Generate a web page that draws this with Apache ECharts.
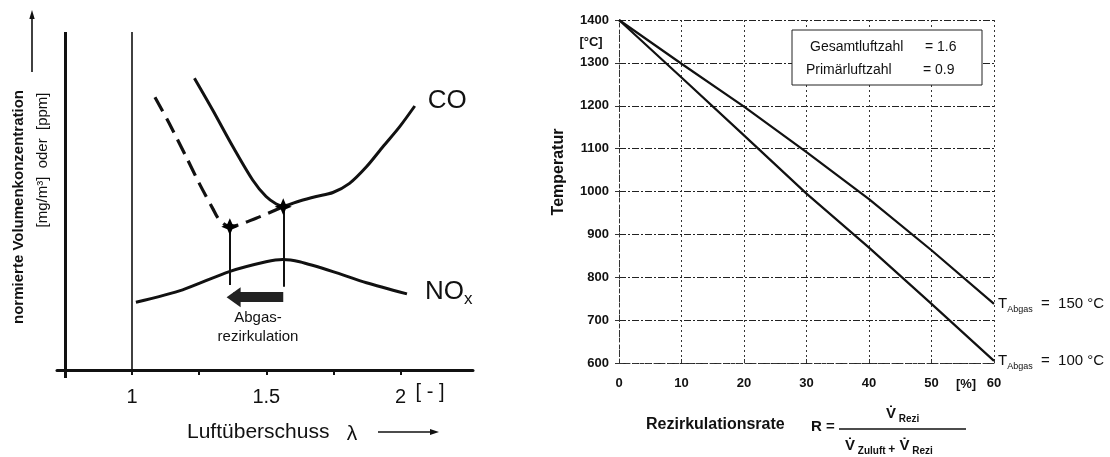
<!DOCTYPE html>
<html><head><meta charset="utf-8">
<script src="https://cdn.jsdelivr.net/npm/echarts@6/dist/echarts.min.js"></script>
<style>html,body{margin:0;padding:0;background:#fff}#c{width:1110px;height:457px}</style>
</head><body><div id="c"></div>
<script>
// ---- Left panel: [lambda, normalized concentration (arbitrary units)] ----
const coWithoutRecirc = [[1.232,86.3],[1.300,76.9],[1.375,66.1],[1.449,56.2],[1.499,51.3],[1.537,49.1],[1.561,48.5],[1.624,50.0],[1.686,51.3],[1.748,52.5],[1.810,55.2],[1.873,60.1],[1.935,66.1],[1.997,72.0],[2.053,78.1]];
const coWithRecirc = [[1.085,80.7],[1.138,73.0],[1.201,63.1],[1.250,55.2],[1.300,47.8],[1.325,44.4],[1.364,42.4],[1.462,44.9],[1.563,48.3]];
const noxCurve = [[1.014,20.0],[1.188,23.7],[1.362,29.1],[1.499,32.0],[1.561,32.7],[1.624,32.0],[1.748,29.1],[1.873,25.8],[2.024,22.5]];
const operatingPoints = [[1.364,42.4],[1.563,48.3]];
const lambdaLabels = [1, 1.5, 2];
const lambdaTicks = [1, 1.25, 1.5, 1.75, 2];

// ---- Right panel: recirculation rate [%] vs temperature [°C] ----
const rates = [0, 10, 20, 30, 40, 50, 60];
const temp150 = [1400, 1298, 1198, 1092, 982, 863, 738];
const temp100 = [1400, 1266, 1131, 995, 869, 738, 605];
const seriesNames = ['150', '100'];
const boxLabels = ['Gesamtluftzahl', 'Primärluftzahl'];
const boxValues = ['= 1.6', '= 0.9'];

const K = '#111';
const FF = '"Liberation Sans", Arial, sans-serif';
const star = 'path://M10,0 L13,7 L20,10 L13,13 L10,20 L7,13 L0,10 L7,7 Z';
const zip = (xs, ys) => xs.map((x, i) => [x, ys[i]]);
const subRich = {
  t: {fontSize: 15, fontFamily: FF, color: K, lineHeight: 22, verticalAlign: 'middle'},
  s: {fontSize: 9, fontFamily: FF, color: K, lineHeight: 22, verticalAlign: 'bottom', padding: [0, 0, 1, 0]}
};

const chart = echarts.init(document.getElementById('c'), null, {renderer: 'canvas'});
const option = {
  animation: false,
  backgroundColor: '#fff',
  textStyle: {fontFamily: FF, color: K},
  grid: [
    {left: 57, top: 32, width: 416, height: 346},
    {left: 619, top: 20, width: 375, height: 343}
  ],
  xAxis: [
    {gridIndex: 0, type: 'value', min: 0.72, max: 2.27,
      axisLine: {onZero: true, lineStyle: {color: K, width: 3}},
      axisTick: {show: true, customValues: lambdaTicks, length: 5, lineStyle: {color: K, width: 2}},
      axisLabel: {customValues: lambdaLabels, fontSize: 20, color: K, margin: 9, formatter: v => String(v)},
      splitLine: {show: false}},
    {gridIndex: 1, type: 'value', min: 0, max: 60, interval: 10,
      axisLine: {lineStyle: {color: '#333', width: 1, type: [4, 3]}},
      axisTick: {show: true, inside: true, length: 4, lineStyle: {color: '#333'}},
      axisLabel: {fontSize: 13, fontWeight: 'bold', color: K, margin: 14, formatter: v => String(v)},
      splitLine: {show: true, lineStyle: {color: '#333', width: 1, type: [2, 3]}}}
  ],
  yAxis: [
    {gridIndex: 0, type: 'value', min: -2.4, max: 100,
      axisLine: {show: false}, axisTick: {show: false}, axisLabel: {show: false}, splitLine: {show: false}},
    {gridIndex: 1, type: 'value', min: 600, max: 1400, interval: 100,
      axisLine: {show: true, lineStyle: {color: '#333', width: 1, type: [4, 3]}},
      axisTick: {show: true, length: 4, lineStyle: {color: '#333'}},
      axisLabel: {fontSize: 13, fontWeight: 'bold', color: K, margin: 10, formatter: v => String(v)},
      splitLine: {show: true, lineStyle: {color: '#222', width: 1, type: [7, 2, 2, 2]}}}
  ],
  series: [
    {type: 'line', name: 'CO', xAxisIndex: 0, yAxisIndex: 0, data: coWithoutRecirc, smooth: 0.3,
      showSymbol: false, lineStyle: {color: K, width: 3},
      endLabel: {show: true, formatter: 'CO', fontSize: 26, color: K, distance: 13, offset: [0, -5]}},
    {type: 'line', name: 'CO (Abgasrezirkulation)', xAxisIndex: 0, yAxisIndex: 0, data: coWithRecirc, smooth: 0.3,
      showSymbol: false, lineStyle: {color: K, width: 3.2, type: [16, 8]}},
    {type: 'line', name: 'NOx', xAxisIndex: 0, yAxisIndex: 0, data: noxCurve, smooth: 0.25,
      showSymbol: false, lineStyle: {color: K, width: 3},
      endLabel: {show: true, formatter: '{a|NO}{b|x}', distance: 18, offset: [0, -2],
        rich: {a: {fontSize: 26, color: K, lineHeight: 32, verticalAlign: 'middle'},
               b: {fontSize: 17, color: K, lineHeight: 32, verticalAlign: 'bottom'}}},
      markLine: {silent: true, symbol: 'none', label: {show: false},
        data: [
          [{coord: [0.75, -2.4], lineStyle: {color: K, width: 3, type: 'solid'}}, {coord: [0.75, 100]}],
          [{coord: [1, 0], lineStyle: {color: K, width: 1.6, type: 'solid'}}, {coord: [1, 100]}],
          [{coord: [operatingPoints[0][0], operatingPoints[0][1]], lineStyle: {color: K, width: 2, type: 'solid'}}, {coord: [operatingPoints[0][0], 25.1]}],
          [{coord: [operatingPoints[1][0], operatingPoints[1][1]], lineStyle: {color: K, width: 2, type: 'solid'}}, {coord: [operatingPoints[1][0], 24.6]}],
          [{coord: [1.563, 21.5], symbol: 'none', lineStyle: {color: '#222', width: 10, type: 'solid'}},
           {coord: [1.378, 21.5], symbol: 'triangle', symbolSize: [20, 14]}]
        ]}},
    {type: 'scatter', xAxisIndex: 0, yAxisIndex: 0, data: operatingPoints, symbol: star, symbolSize: 17, z: 6,
      itemStyle: {color: '#000', opacity: 1}, silent: true},
    {type: 'scatter', xAxisIndex: 0, yAxisIndex: 0, data: [[1.469, 12.7]], symbolSize: 1, silent: true,
      itemStyle: {color: 'rgba(0,0,0,0)', opacity: 1},
      label: {show: true, position: 'inside', formatter: 'Abgas-\nrezirkulation', fontSize: 15, lineHeight: 19, color: K, opacity: 1}},
    {type: 'line', name: seriesNames[0], xAxisIndex: 1, yAxisIndex: 1, data: zip(rates, temp150),
      showSymbol: false, lineStyle: {color: K, width: 2.2},
      endLabel: {show: true, distance: 4, formatter: '{t|T}{s|Abgas}{t|  =  150 °C}', rich: subRich}},
    {type: 'line', name: seriesNames[1], xAxisIndex: 1, yAxisIndex: 1, data: zip(rates, temp100),
      showSymbol: false, lineStyle: {color: K, width: 2.2},
      endLabel: {show: true, distance: 4, formatter: '{t|T}{s|Abgas}{t|  =  100 °C}', rich: subRich}}
  ],
  graphic: [
    // left panel titles
    {type: 'text', x: 19, y: 207, rotation: Math.PI / 2,
      style: {text: 'normierte Volumenkonzentration', fontSize: 15, fontWeight: 'bold', fontFamily: FF, fill: K, align: 'center', verticalAlign: 'middle'}},
    {type: 'text', x: 43, y: 160, rotation: Math.PI / 2,
      style: {text: '[mg/m³]  oder  [ppm]', fontSize: 15, fontFamily: FF, fill: K, align: 'center', verticalAlign: 'middle'}},
    {type: 'line', shape: {x1: 32, y1: 72, x2: 32, y2: 16}, style: {stroke: K, lineWidth: 1.6}},
    {type: 'polygon', shape: {points: [[32, 10], [29.3, 19], [34.7, 19]]}, style: {fill: K}},
    {type: 'text', x: 430, y: 392, style: {text: '[ - ]', fontSize: 20, fontFamily: FF, fill: K, align: 'center', verticalAlign: 'middle'}},
    {type: 'text', x: 187, y: 432, style: {text: 'Luftüberschuss', fontSize: 21, fontFamily: FF, fill: K, align: 'left', verticalAlign: 'middle'}},
    {type: 'text', x: 352, y: 434, style: {text: 'λ', fontSize: 21, fontFamily: FF, fill: K, align: 'center', verticalAlign: 'middle'}},
    {type: 'line', shape: {x1: 378, y1: 432, x2: 434, y2: 432}, style: {stroke: K, lineWidth: 1.5}},
    {type: 'polygon', shape: {points: [[439, 432], [430, 429], [430, 435]]}, style: {fill: K}},
    // right panel titles
    {type: 'text', x: 591, y: 42, style: {text: '[°C]', fontSize: 13, fontWeight: 'bold', fontFamily: FF, fill: K, align: 'center', verticalAlign: 'middle'}},
    {type: 'text', x: 966, y: 384, style: {text: '[%]', fontSize: 13, fontWeight: 'bold', fontFamily: FF, fill: K, align: 'center', verticalAlign: 'middle'}},
    {type: 'text', x: 559, y: 172, rotation: Math.PI / 2,
      style: {text: 'Temperatur', fontSize: 16, fontWeight: 'bold', fontFamily: FF, fill: K, align: 'center', verticalAlign: 'middle'}},
    {type: 'text', x: 646, y: 425, style: {text: 'Rezirkulationsrate', fontSize: 16, fontWeight: 'bold', fontFamily: FF, fill: K, align: 'left', verticalAlign: 'middle'}},
    {type: 'text', x: 811, y: 427, style: {text: 'R =', fontSize: 15, fontWeight: 'bold', fontFamily: FF, fill: K, align: 'left', verticalAlign: 'middle'}},
    {type: 'line', shape: {x1: 839, y1: 429, x2: 966, y2: 429}, style: {stroke: K, lineWidth: 1.5}},
    {type: 'text', x: 886, y: 414, style: {text: '{v|V\u0307}{s| Rezi}', fontFamily: FF, fill: K, align: 'left', verticalAlign: 'middle',
      rich: {v: {fontSize: 15, fontWeight: 'bold', fill: K, lineHeight: 20, verticalAlign: 'middle'}, s: {fontSize: 10, fontWeight: 'bold', fill: K, lineHeight: 20, verticalAlign: 'bottom'}}}},
    {type: 'text', x: 845, y: 446, style: {text: '{v|V\u0307}{s| Zuluft }{p|+}{v| V\u0307}{s| Rezi}', fontFamily: FF, fill: K, align: 'left', verticalAlign: 'middle',
      rich: {v: {fontSize: 15, fontWeight: 'bold', fill: K, lineHeight: 20, verticalAlign: 'middle'}, s: {fontSize: 10, fontWeight: 'bold', fill: K, lineHeight: 20, verticalAlign: 'bottom'}, p: {fontSize: 12, fontWeight: 'bold', fill: K, lineHeight: 20, verticalAlign: 'bottom'}}}},
    // parameter box
    {type: 'rect', shape: {x: 792, y: 30, width: 190, height: 55}, style: {fill: '#fff', stroke: '#222', lineWidth: 1}, z: 10},
    {type: 'text', x: 810, y: 47, z: 11, style: {text: boxLabels[0], fontSize: 14, fontFamily: FF, fill: K, align: 'left', verticalAlign: 'middle'}},
    {type: 'text', x: 925, y: 47, z: 11, style: {text: boxValues[0], fontSize: 14, fontFamily: FF, fill: K, align: 'left', verticalAlign: 'middle'}},
    {type: 'text', x: 806, y: 70, z: 11, style: {text: boxLabels[1], fontSize: 14, fontFamily: FF, fill: K, align: 'left', verticalAlign: 'middle'}},
    {type: 'text', x: 923, y: 70, z: 11, style: {text: boxValues[1], fontSize: 14, fontFamily: FF, fill: K, align: 'left', verticalAlign: 'middle'}}
  ]
};
chart.setOption(option);
</script></body></html>
